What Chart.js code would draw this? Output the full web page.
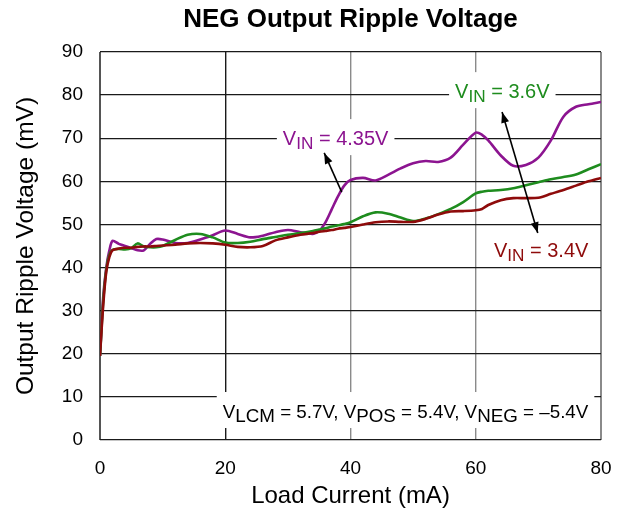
<!DOCTYPE html>
<html>
<head>
<meta charset="utf-8">
<script src="https://cdn.jsdelivr.net/npm/chart.js@4.4.1/dist/chart.umd.min.js"></script>
<style>
  html, body { margin: 0; padding: 0; background: #fff; }
  canvas { display: block; }
</style>
</head>
<body>
<canvas id="chart" width="629" height="521"></canvas>
<script>
// Load current sample points (mA)
const loadCurrent = [0, 0.5, 1, 1.5, 2, 3, 4, 5, 6, 7, 8, 9, 10, 12, 14, 16, 18, 20, 22, 24, 26, 28, 30, 32, 34, 35, 36, 37, 38, 39, 40, 42, 44, 46, 48, 50, 52, 54, 56, 58, 60, 61, 62, 64, 66, 68, 70, 72, 74, 76, 78, 80];

// Output ripple (mV) for each input voltage
const rippleVin435 = [19.5, 33, 40, 44, 46.2, 45.5, 45, 44.5, 44, 44, 45.5, 46.6, 46.5, 45.7, 45.7, 46.5, 47.5, 48.6, 47.8, 47, 47.4, 48.2, 48.7, 48.2, 47.8, 48.5, 50.5, 53.5, 56.5, 59, 60.3, 60.8, 60.2, 61.5, 63, 64.2, 64.7, 64.5, 65.5, 68.5, 71.3, 70.8, 69.5, 66, 63.6, 63.8, 65.5, 69.5, 75, 77.3, 77.9, 78.4];
const rippleVin36 = [19.5, 32, 39.5, 43, 44.1, 44.3, 44.2, 44.5, 45.6, 44.9, 44.7, 44.7, 45, 46.4, 47.6, 47.8, 47, 45.8, 45.7, 46, 46.6, 47.1, 47.6, 48, 48.5, 48.8, 49.1, 49.5, 49.8, 50.1, 50.5, 51.9, 52.8, 52.5, 51.6, 50.8, 51.4, 52.4, 53.6, 55.2, 57.2, 57.6, 57.8, 58, 58.4, 59.1, 59.8, 60.5, 61, 61.6, 62.8, 64];
const rippleVin34 = [19.5, 31, 39, 42.5, 44, 44.4, 44.6, 44.6, 44.8, 44.9, 44.9, 45, 45.1, 45.3, 45.6, 45.7, 45.6, 45.3, 44.8, 44.7, 45, 46.3, 47, 47.6, 48, 48.3, 48.5, 48.7, 49, 49.2, 49.4, 50, 50.5, 50.7, 50.6, 50.6, 51.3, 52.3, 53, 53.1, 53.3, 53.6, 54.5, 55.6, 56.1, 56.1, 56.2, 57.1, 58, 59, 60, 60.8];

// Axis ticks
const xTickValues = [0, 20, 40, 60, 80];
const yTickValues = [0, 10, 20, 30, 40, 50, 60, 70, 80, 90];

const TITLE = 'NEG Output Ripple Voltage';
const FONT = "'Liberation Sans', Arial, Helvetica, sans-serif";
const PURPLE = '#8C1490';
const GREEN = '#1E8C1E';
const DARKRED = '#8E0B0B';

function series(values) {
  return loadCurrent.map((x, i) => ({ x: x, y: values[i] }));
}

// Curve labels, anchored in data units (left edge of text, baseline)
const curveLabels = [
  { at: [29.2, 68.4], color: PURPLE, size: 20, parts: [['V'], ['IN', true], [' = 4.35V']] },
  { at: [56.7, 79.3], color: GREEN, size: 20, parts: [['V'], ['IN', true], [' = 3.6V']] },
  { at: [62.9, 42.45], color: DARKRED, size: 20, parts: [['V'], ['IN', true], [' = 3.4V']] },
  { at: [19.6, 5.1], color: '#000', size: 18.8, subScale: 1.0, parts: [['V'], ['LCM', true], [' = 5.7V, V'], ['POS', true], [' = 5.4V, V'], ['NEG', true], [' = \u20135.4V']] }
];

// Arrows in data units: [fromX, fromY, toX, toY, doubleHeaded]
const arrows = [
  [38.6, 57.5, 35.8, 66.6, false],
  [64.2, 76.1, 69.9, 48.0, true]
];

function partFont(size, sub, subScale) {
  const s = sub ? size * (subScale || 0.86) : size;
  return s + 'px ' + FONT;
}

// Title centred over the plot area
const titlePlugin = {
  id: 'plotTitle',
  afterDraw(chart) {
    const { ctx, chartArea } = chart;
    ctx.save();
    ctx.fillStyle = '#000';
    ctx.font = 'bold 26px ' + FONT;
    ctx.textAlign = 'center';
    ctx.textBaseline = 'middle';
    ctx.fillText(TITLE, (chartArea.left + chartArea.right) / 2, 20);
    ctx.restore();
  }
};

const labelPlugin = {
  id: 'curveLabels',
  beforeDatasetsDraw(chart) {
    const { ctx, scales: { x, y } } = chart;
    ctx.save();
    curveLabels.forEach(lab => {
      const px = x.getPixelForValue(lab.at[0]);
      const py = y.getPixelForValue(lab.at[1]);
      let w = 0;
      lab.parts.forEach(p => {
        ctx.font = partFont(lab.size, p[1], lab.subScale);
        w += ctx.measureText(p[0]).width;
      });
      ctx.fillStyle = '#fff';
      ctx.fillRect(px - 6, py - 26, w + 12, 36);
      let cx = px;
      ctx.fillStyle = lab.color;
      ctx.textBaseline = 'alphabetic';
      ctx.textAlign = 'left';
      lab.parts.forEach(p => {
        ctx.font = partFont(lab.size, p[1], lab.subScale);
        ctx.fillText(p[0], cx, p[1] ? py + 4 : py);
        cx += ctx.measureText(p[0]).width;
      });
    });
    ctx.restore();
  }
};

function arrowHead(ctx, fx, fy, tx, ty) {
  const ang = Math.atan2(ty - fy, tx - fx);
  const len = 11, half = 4;
  ctx.beginPath();
  ctx.moveTo(tx, ty);
  ctx.lineTo(tx - len * Math.cos(ang) + half * Math.sin(ang), ty - len * Math.sin(ang) - half * Math.cos(ang));
  ctx.lineTo(tx - len * Math.cos(ang) - half * Math.sin(ang), ty - len * Math.sin(ang) + half * Math.cos(ang));
  ctx.closePath();
  ctx.fill();
}

const arrowPlugin = {
  id: 'arrows',
  afterDatasetsDraw(chart) {
    const { ctx, scales: { x, y } } = chart;
    ctx.save();
    ctx.strokeStyle = '#000';
    ctx.fillStyle = '#000';
    ctx.lineWidth = 1.6;
    arrows.forEach(a => {
      const fx = x.getPixelForValue(a[0]), fy = y.getPixelForValue(a[1]);
      const tx = x.getPixelForValue(a[2]), ty = y.getPixelForValue(a[3]);
      ctx.beginPath();
      ctx.moveTo(fx, fy);
      ctx.lineTo(tx, ty);
      ctx.stroke();
      arrowHead(ctx, fx, fy, tx, ty);
      if (a[4]) arrowHead(ctx, tx, ty, fx, fy);
    });
    ctx.restore();
  }
};

const lineStyle = { borderWidth: 2.6, pointRadius: 0, tension: 0.3, fill: false };

new Chart(document.getElementById('chart'), {
  type: 'line',
  data: {
    datasets: [
      Object.assign({ label: 'VIN = 3.4V', data: series(rippleVin34), borderColor: DARKRED }, lineStyle),
      Object.assign({ label: 'VIN = 3.6V', data: series(rippleVin36), borderColor: GREEN }, lineStyle),
      Object.assign({ label: 'VIN = 4.35V', data: series(rippleVin435), borderColor: PURPLE }, lineStyle)
    ]
  },
  options: {
    responsive: false,
    animation: false,
    devicePixelRatio: 1,
    layout: { padding: { left: 0, right: 28, top: 52, bottom: 0 } },
    plugins: {
      legend: { display: false },
      tooltip: { enabled: false },
      title: { display: false }
    },
    scales: {
      x: {
        type: 'linear',
        min: 0,
        max: 80,
        afterBuildTicks: s => { s.ticks = xTickValues.map(v => ({ value: v })); },
        afterFit: s => { s.height = 81; },
        border: { display: false },
        grid: {
          drawTicks: false,
          color: c => {
            const v = c.tick.value;
            if (v === 0) return '#555';
            if (v === 20) return '#1a1a1a';
            return '#8a8a8a';
          },
          lineWidth: c => (c.tick.value === 0 || c.tick.value === 80) ? 2 : 1.4
        },
        ticks: { color: '#000', font: { family: FONT, size: 19 }, padding: 17, maxRotation: 0 },
        title: {
          display: true,
          text: 'Load Current (mA)',
          color: '#000',
          font: { family: FONT, size: 24 },
          padding: { top: 0, bottom: 10 }
        }
      },
      y: {
        type: 'linear',
        min: 0,
        max: 90,
        afterBuildTicks: s => { s.ticks = yTickValues.map(v => ({ value: v })); },
        afterFit: s => { s.width = 100; },
        border: { display: false },
        grid: {
          drawTicks: false,
          color: '#1a1a1a',
          lineWidth: 1.3
        },
        ticks: { color: '#000', font: { family: FONT, size: 19 }, padding: 17 },
        title: {
          display: true,
          text: 'Output Ripple Voltage (mV)',
          color: '#000',
          font: { family: FONT, size: 24.5 },
          padding: { top: 12, bottom: 0 }
        }
      }
    }
  },
  plugins: [labelPlugin, arrowPlugin, titlePlugin]
});
</script>
</body>
</html>
